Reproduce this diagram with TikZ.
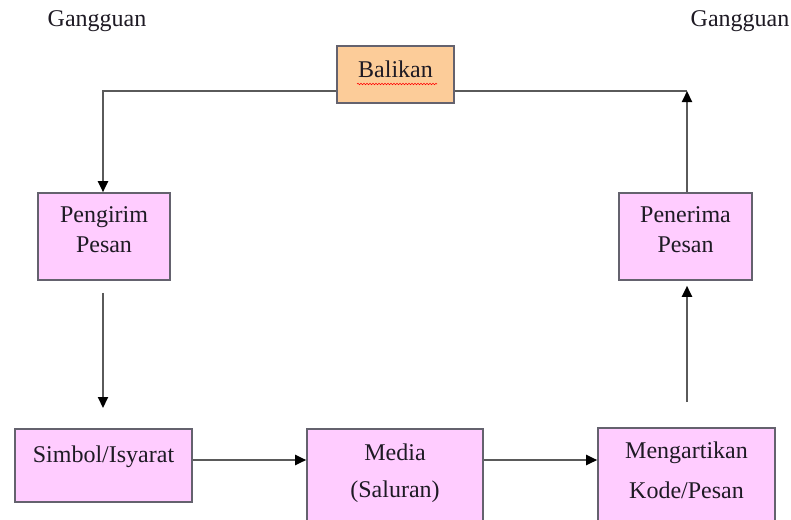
\documentclass[tikz,border=0pt]{standalone}
\usepackage{fontspec}
\setmainfont{Liberation Serif}
\usetikzlibrary{arrows.meta,decorations.pathmorphing}
\definecolor{boxpink}{RGB}{255,204,255}
\definecolor{boxorange}{RGB}{252,204,153}
\definecolor{edgegray}{RGB}{100,98,110}
\definecolor{linegray}{RGB}{90,90,90}
\definecolor{txt}{RGB}{30,26,36}
\begin{document}
\begin{tikzpicture}[x=1pt,y=-1pt,
  box/.style={draw=edgegray, line width=1.6pt, fill=boxpink, inner sep=0pt,
    text=txt, font=\fontsize{24}{30}\selectfont},
  conn/.style={draw=linegray, line width=2pt},
  tip/.style={-{Triangle[length=11pt,width=10pt,color=black]}},
  lbl/.style={font=\fontsize{24}{30}\selectfont, text=txt, anchor=base, inner sep=0pt}
]
\clip (0,0) rectangle (791,519);
\fill[white] (0,0) rectangle (791,519);

% labels
\node[lbl] (g1) at (97,27) {Gangguan};
\node[lbl] (g2) at (740,27) {Gangguan};

% boxes
\node[box, fill=boxorange, minimum width=117pt, minimum height=57pt,
      text height=25pt, text depth=20pt] (balikan) at (395.5,74.5)
      {\begin{tabular}[b]{@{}c@{}}Balikan\end{tabular}};
\node[box, minimum width=132pt, minimum height=87pt,
      text height=50pt, text depth=19pt] (pengirim) at (104,236.5)
      {\begin{tabular}[b]{@{}c@{}}Pengirim\\Pesan\end{tabular}};
\node[box, minimum width=133pt, minimum height=87pt,
      text height=50pt, text depth=19pt] (penerima) at (685.5,236.5)
      {\begin{tabular}[b]{@{}c@{}}Penerima\\Pesan\end{tabular}};
\node[box, minimum width=177pt, minimum height=73pt,
      text height=30pt, text depth=37pt] (simbol) at (103.5,465.5)
      {\begin{tabular}[b]{@{}c@{}}Simbol/Isyarat\end{tabular}};
\node[box, font=\fontsize{24}{37}\selectfont, minimum width=176pt, minimum height=111pt,
      text height=60pt, text depth=35pt] (media) at (395,484.5)
      {\begin{tabular}[b]{@{}c@{}}Media\\(Saluran)\end{tabular}};
\node[box, font=\fontsize{24}{40}\selectfont, minimum width=177pt, minimum height=112pt,
      text height=62pt, text depth=34pt] (arti) at (686.5,484)
      {\begin{tabular}[b]{@{}c@{}}Mengartikan\\Kode/Pesan\end{tabular}};

% spell-check underline
\draw[red, line width=0.6pt, decorate, decoration={snake, amplitude=0.7pt, segment length=3pt}]
  (357,84) -- (437,84);

% connector helpers
\coordinate (lj) at (103,91);
\coordinate (rj) at (687,91);
\coordinate (lb) at (103,408);
\coordinate (rb) at (687,402);
\coordinate (ay) at (0,460);

% connectors
\draw[conn,tip] (balikan.west |- lj) -- (lj) -- (lj |- pengirim.north);
\draw[conn] (balikan.east |- rj) -- (rj);
\draw[conn,tip] (rj |- penerima.north) -- (rj);
\draw[conn,tip,shorten <=12pt] (lb |- pengirim.south) -- (lb);
\draw[conn,tip,shorten >=5pt] (rb) -- (rb |- penerima.south);
\draw[conn,tip] (simbol.east |- ay) -- (media.west |- ay);
\draw[conn,tip] (media.east |- ay) -- (arti.west |- ay);
\end{tikzpicture}
\end{document}
